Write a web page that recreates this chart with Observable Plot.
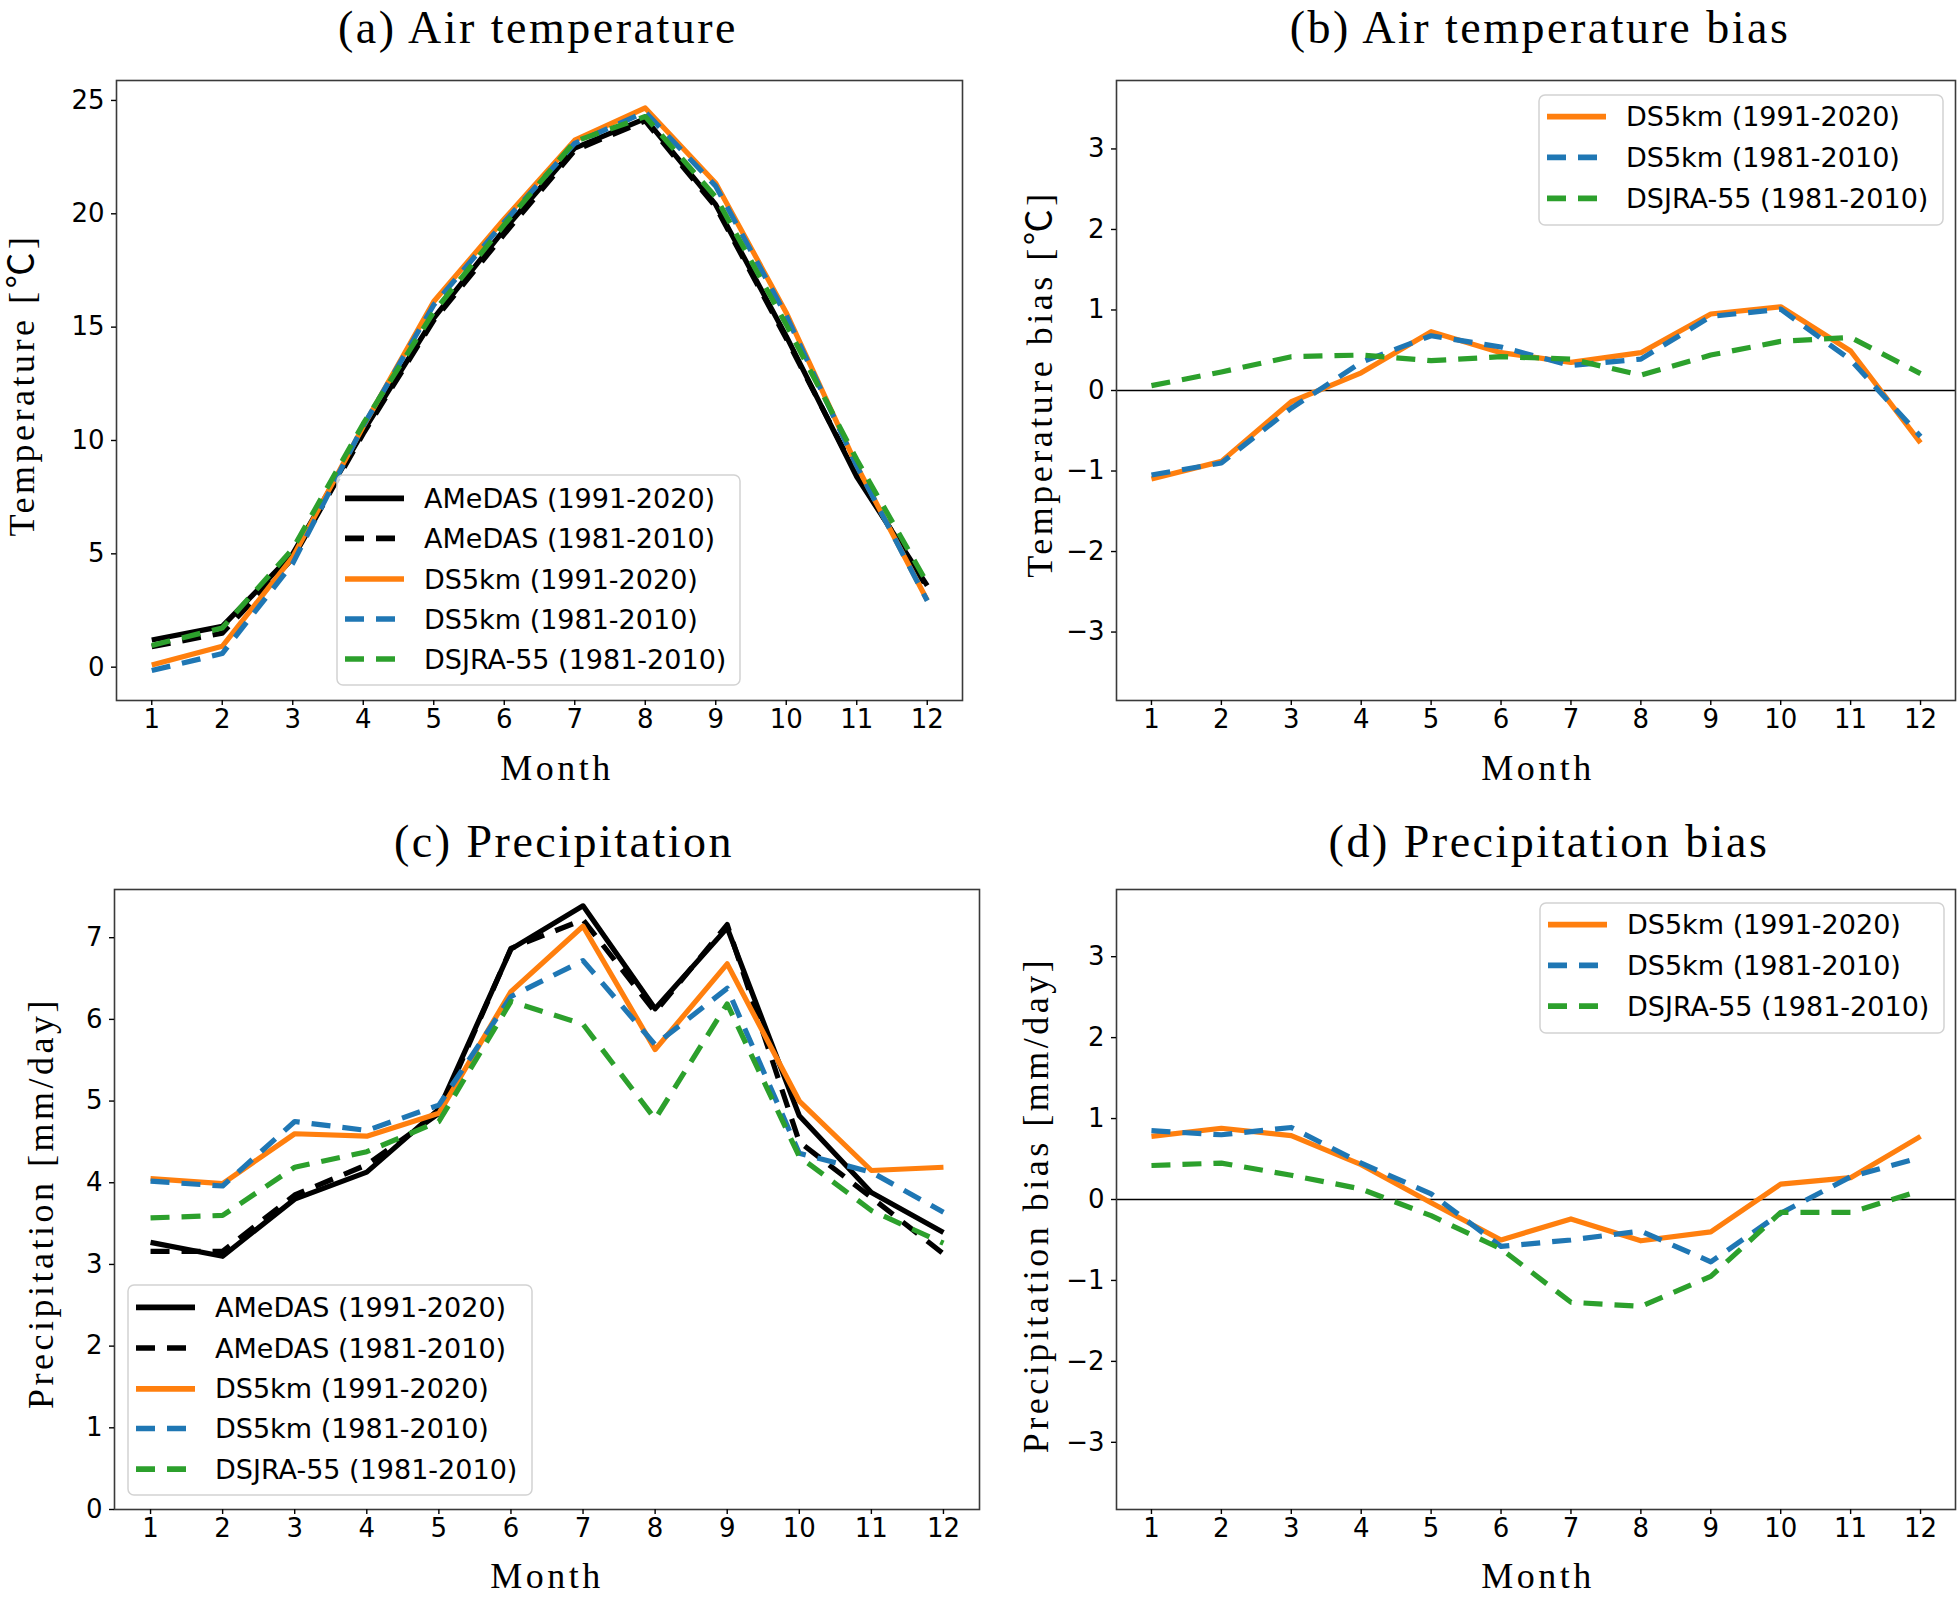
<!DOCTYPE html>
<html><head><meta charset="utf-8">
<script src="https://cdn.jsdelivr.net/npm/d3@7"></script>
<script src="https://cdn.jsdelivr.net/npm/@observablehq/plot@0.6"></script>
<style>
body{margin:0;background:#fff;}
#root{position:relative;width:1959px;height:1598px;overflow:hidden;background:#fff;}
#root svg.panel{position:absolute;overflow:visible;}
#overlay{position:absolute;left:0;top:0;pointer-events:none;}
</style></head><body><div id="root"></div>
<script>
// ---------- data ----------
const months = [1,2,3,4,5,6,7,8,9,10,11,12];
const seriesLabels = ["AMeDAS (1991-2020)","AMeDAS (1981-2010)","DS5km (1991-2020)","DS5km (1981-2010)","DSJRA-55 (1981-2010)"];
const biasLabels = ["DS5km (1991-2020)","DS5km (1981-2010)","DSJRA-55 (1981-2010)"];
const titles = ["(a) Air temperature","(b) Air temperature bias","(c) Precipitation","(d) Precipitation bias"];
const yLabels = ["Temperature [℃]","Temperature bias [℃]","Precipitation [mm/day]","Precipitation bias [mm/day]"];
const xLabel = "Month";

// (a) air temperature [°C]
const tempAMeDAS9120 = [1.2, 1.8, 5.0, 10.4, 15.4, 19.3, 22.9, 24.2, 20.4, 14.6, 8.4, 3.6];
const tempAMeDAS8110 = [0.9, 1.5, 4.8, 10.3, 15.3, 19.1, 22.8, 24.1, 20.3, 14.5, 8.5, 3.5];
const tempDS5km9120  = [0.1, 0.92, 4.86, 10.62, 16.13, 19.77, 23.25, 24.67, 21.35, 15.64, 8.89, 2.95];
const tempDS5km8110  = [-0.15, 0.6, 4.58, 10.65, 15.98, 19.64, 23.11, 24.49, 21.22, 15.51, 8.88, 2.93];
const tempDSJRA8110  = [0.96, 1.73, 5.22, 10.74, 15.67, 19.52, 23.19, 24.29, 20.74, 15.11, 9.16, 3.71];
// (b) air temperature bias [°C]
const tbiasDS5km9120 = [-1.1, -0.88, -0.14, 0.22, 0.73, 0.47, 0.35, 0.47, 0.95, 1.04, 0.49, -0.65];
const tbiasDS5km8110 = [-1.05, -0.9, -0.22, 0.35, 0.68, 0.54, 0.31, 0.39, 0.92, 1.01, 0.38, -0.57];
const tbiasDSJRA8110 = [0.06, 0.23, 0.42, 0.44, 0.37, 0.42, 0.39, 0.19, 0.44, 0.61, 0.66, 0.21];
// (c) precipitation [mm/day]
const precAMeDAS9120 = [3.27, 3.10, 3.80, 4.13, 4.90, 6.86, 7.39, 6.13, 7.12, 4.82, 3.88, 3.39];
const precAMeDAS8110 = [3.16, 3.16, 3.85, 4.22, 4.85, 6.87, 7.22, 6.09, 7.16, 4.50, 3.82, 3.13];
const precDS5km9120  = [4.05, 3.99, 4.60, 4.57, 4.85, 6.34, 7.14, 5.63, 6.68, 5.00, 4.15, 4.19];
const precDS5km8110  = [4.02, 3.96, 4.75, 4.64, 4.95, 6.28, 6.72, 5.69, 6.38, 4.36, 4.13, 3.64];
const precDSJRA8110  = [3.57, 3.60, 4.19, 4.38, 4.75, 6.22, 5.94, 4.78, 6.19, 4.32, 3.66, 3.26];
// (d) precipitation bias [mm/day]
const pbiasDS5km9120 = [0.78, 0.88, 0.79, 0.43, -0.04, -0.50, -0.24, -0.51, -0.40, 0.19, 0.27, 0.78];
const pbiasDS5km8110 = [0.85, 0.80, 0.89, 0.45, 0.07, -0.58, -0.50, -0.39, -0.77, -0.17, 0.28, 0.52];
const pbiasDSJRA8110 = [0.42, 0.45, 0.30, 0.13, -0.20, -0.61, -1.27, -1.32, -0.95, -0.16, -0.16, 0.11];

const tempTicks = [0,5,10,15,20,25];
const biasTicks = [-3,-2,-1,0,1,2,3];
const precTicks = [0,1,2,3,4,5,6,7];

// ---------- styles ----------
const styles = [
  {color:"#000000", dash:false},
  {color:"#000000", dash:true},
  {color:"#ff7f0e", dash:false},
  {color:"#1f77b4", dash:true},
  {color:"#2ca02c", dash:true}
];
const biasStyles = styles.slice(2);
const DASH = "19,12";
const LW = 5.2;

const fmt = d => d < 0 ? "\u2212" + Math.abs(d) : String(d);
const rows = vals => months.map((m,i) => ({month:m, value:vals[i]}));

function panel(cfg){
  const marks = [];
  if (cfg.zero) marks.push(Plot.ruleY([0], {stroke:"#000", strokeWidth:1.5}));
  cfg.series.forEach((vals,i) => {
    const st = cfg.styles[i];
    marks.push(Plot.lineY(rows(vals), {x:"month", y:"value", stroke:st.color, strokeWidth:LW,
      strokeDasharray: st.dash ? DASH : undefined, strokeLinejoin:"round", strokeLinecap:"butt"}));
  });
  marks.push(Plot.frame({stroke:"#3a3a3a", strokeWidth:1.6}));
  marks.push(Plot.axisX({ticks:months, tickFormat:fmt, tickSize:5, tickPadding:4, label:null, strokeWidth:1.4}));
  marks.push(Plot.axisY({ticks:cfg.yTicks, tickFormat:fmt, tickSize:5, tickPadding:7, label:null, strokeWidth:1.4}));
  const svg = Plot.plot({
    width: cfg.w, height: cfg.h,
    marginLeft: cfg.ml, marginRight: cfg.mr, marginTop: cfg.mt, marginBottom: cfg.mb,
    x: {domain:[0.5,12.5]},
    y: {domain: cfg.yDomain},
    style: {fontFamily:"'DejaVu Sans', sans-serif", fontSize:"26px", color:"#000", background:"transparent", overflow:"visible"},
    marks
  });
  svg.classList.add("panel");
  svg.style.left = cfg.left + "px";
  svg.style.top = cfg.top + "px";
  document.getElementById("root").appendChild(svg);
}

panel({left:0, top:0, w:980, h:800, ml:116, mr:18, mt:80, mb:100,
  yDomain:[-1.47, 25.88], yTicks:tempTicks, styles,
  series:[tempAMeDAS9120,tempAMeDAS8110,tempDS5km9120,tempDS5km8110,tempDSJRA8110]});
panel({left:980, top:0, w:979, h:800, ml:136, mr:4, mt:80, mb:100,
  yDomain:[-3.85, 3.85], yTicks:biasTicks, styles:biasStyles, zero:true,
  series:[tbiasDS5km9120,tbiasDS5km8110,tbiasDSJRA8110]});
panel({left:0, top:800, w:980, h:798, ml:114, mr:1, mt:89, mb:89,
  yDomain:[0, 7.59], yTicks:precTicks, styles,
  series:[precAMeDAS9120,precAMeDAS8110,precDS5km9120,precDS5km8110,precDSJRA8110]});
panel({left:980, top:800, w:979, h:798, ml:136, mr:4, mt:89, mb:89,
  yDomain:[-3.83, 3.83], yTicks:biasTicks, styles:biasStyles, zero:true,
  series:[pbiasDS5km9120,pbiasDS5km8110,pbiasDSJRA8110]});

// ---------- overlay: titles, axis labels, legends ----------
const NS = "http://www.w3.org/2000/svg";
const ov = document.createElementNS(NS, "svg");
ov.setAttribute("id","overlay");
ov.setAttribute("width",1959); ov.setAttribute("height",1598);
document.getElementById("root").appendChild(ov);
function el(tag, attrs, text){
  const e = document.createElementNS(NS, tag);
  for (const k in attrs) e.setAttribute(k, attrs[k]);
  if (text != null) e.textContent = text;
  ov.appendChild(e); return e;
}
const SERIF = "'Liberation Serif', 'Noto Sans CJK JP', serif";
const titlePos = [[538,43],[1540,43],[564,857],[1549,857]];
titles.forEach((t,i) => el("text", {x:titlePos[i][0], y:titlePos[i][1], "text-anchor":"middle",
  "font-family":SERIF, "font-size":46, "letter-spacing":2.5, fill:"#000"}, t));
const monthPos = [[557,780],[1538,780],[547,1588],[1538,1588]];
monthPos.forEach(p => el("text", {x:p[0], y:p[1], "text-anchor":"middle",
  "font-family":SERIF, "font-size":36, "letter-spacing":3.5, fill:"#000"}, xLabel));
const yLabPos = [[22,385],[1040,384],[41,1203],[1036,1205]];
yLabels.forEach((t,i) => el("text", {transform:`translate(${yLabPos[i][0]},${yLabPos[i][1]}) rotate(-90)`,
  "text-anchor":"middle", "dominant-baseline":"central",
  "font-family":SERIF, "font-size":36, "letter-spacing":3.5, fill:"#000"}, t));

function legend(x, y, w, h, rowYs, labels, sts){
  el("rect", {x, y, width:w, height:h, rx:6, ry:6, fill:"#fff", "fill-opacity":0.8, stroke:"#d2d2d2", "stroke-width":1.5});
  labels.forEach((lab,i) => {
    const ry = rowYs[i];
    const a = {x1:x+8, x2:x+67, y1:ry, y2:ry, stroke:sts[i].color, "stroke-width":LW+0.5, "stroke-linecap":"butt"};
    if (sts[i].dash) a["stroke-dasharray"] = DASH;
    el("line", a);
    el("text", {x:x+87, y:ry+9.5, "font-family":"'DejaVu Sans', sans-serif", "font-size":27, fill:"#000"}, lab);
  });
}
legend(337, 475, 403, 210, [498.3,538.3,579,619,659], seriesLabels, styles);
legend(1539, 95, 404, 130, [116.7,157.3,198.3], biasLabels, biasStyles);
legend(128, 1285, 404, 210, [1307.4,1348,1388.8,1428.5,1469.2], seriesLabels, styles);
legend(1540, 903, 404, 130, [924.7,965.4,1006.1], biasLabels, biasStyles);
</script>
</body></html>
